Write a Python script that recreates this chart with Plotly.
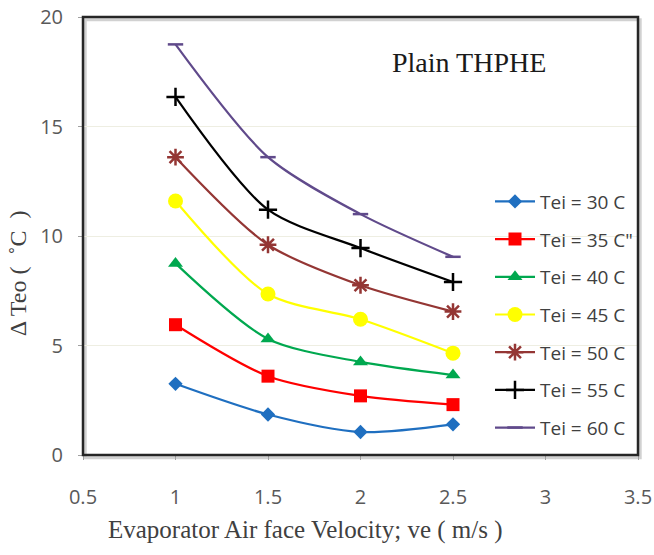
import plotly.graph_objects as go

# Air face velocity (m/s)
velocity = [1.0, 1.5, 2.0, 2.5]

# Evaporator outlet temperature drop (°C) for each inlet temperature
tei_30 = [3.25, 1.85, 1.05, 1.4]
tei_35 = [5.95, 3.6, 2.7, 2.3]
tei_40 = [8.75, 5.3, 4.25, 3.65]
tei_45 = [11.6, 7.35, 6.2, 4.65]
tei_50 = [13.6, 9.6, 7.75, 6.55]
tei_55 = [16.35, 11.2, 9.45, 7.9]
tei_60 = [18.75, 13.6, 11.0, 9.05]

series_names = ["Tei = 30 C", "Tei = 35 C\"", "Tei = 40 C", "Tei = 45 C",
                "Tei = 50 C", "Tei = 55 C", "Tei = 60 C"]
series_values = [tei_30, tei_35, tei_40, tei_45, tei_50, tei_55, tei_60]

x_ticks = [0.5, 1.0, 1.5, 2.0, 2.5, 3.0, 3.5]
x_tick_text = ["0.5", "1", "1.5", "2", "2.5", "3", "3.5"]
y_ticks = [0, 5, 10, 15, 20]

colors = ["#1F6FC0", "#FF0000", "#00A84F", "#FFFF00", "#943634", "#000000", "#604A8B"]
symbols = ["diamond", "square", "triangle-up", "circle",
           "asterisk-open", "cross-thin-open", "line-ew-open"]
sizes = [11, 13, 13, 15, 14, 13, 11]

fig = go.Figure()
for i, (name, vals) in enumerate(zip(series_names, series_values)):
    fig.add_trace(go.Scatter(
        x=velocity, y=vals, name=name, mode="lines+markers",
        legendgroup=f"g{i}",
        line=dict(color=colors[i], width=2.2, shape="spline", smoothing=0.8),
        marker=dict(symbol=symbols[i], size=sizes[i], color=colors[i],
                    line=dict(color=colors[i], width=2.5 if i >= 4 else 0)),
    ))

axis_font = dict(family="Open Sans, Arial, sans-serif", size=20, color="#595959")
serif = "Liberation Serif, Times New Roman, serif"

fig.update_layout(
    width=654, height=555,
    margin=dict(l=83, r=16, t=17, b=100, autoexpand=False),
    paper_bgcolor="white", plot_bgcolor="white",
    showlegend=True,
    legend=dict(
        x=1.0, xanchor="right", y=0.622, yanchor="top",
        bgcolor="rgba(0,0,0,0)", borderwidth=0,
        font=dict(family="Open Sans, Arial, sans-serif", size=19, color="#404040"),
        traceorder="grouped", tracegroupgap=10, itemwidth=40,
    ),
    xaxis=dict(
        range=[0.5, 3.5], tickvals=x_ticks, ticktext=x_tick_text,
        showgrid=False, zeroline=False, showline=False, automargin=False,
        ticks="outside", ticklen=4, tickcolor="#A0A0A0", tickwidth=1,
        ticklabelstandoff=20, tickfont=axis_font,
    ),
    yaxis=dict(
        range=[0, 20], tickvals=y_ticks,
        showgrid=True, gridcolor="#EEEEE2", gridwidth=1, zeroline=False,
        showline=False, automargin=False,
        ticks="outside", ticklen=4, tickcolor="#A0A0A0", tickwidth=1,
        ticklabelstandoff=11, tickfont=axis_font,
    ),
    shapes=[
        # soft shadow under the frame
        dict(type="rect", xref="paper", yref="paper", x0=0.004, y0=-0.006, x1=1.004, y1=0.994,
             line=dict(color="rgba(0,0,0,0.18)", width=3), layer="below"),
        # dark plot frame
        dict(type="rect", xref="paper", yref="paper", x0=0, y0=0, x1=1, y1=1,
             line=dict(color="#262626", width=2.5), layer="above"),
    ],
    annotations=[
        dict(text="Plain THPHE", xref="paper", yref="paper", x=0.695, y=0.895,
             xanchor="center", yanchor="middle", showarrow=False,
             font=dict(family=serif, size=28, color="#1A1A1A")),
        dict(text="Evaporator Air face Velocity; ve ( m/s )", xref="paper", yref="paper",
             x=0.40, y=-0.172, xanchor="center", yanchor="middle", showarrow=False,
             font=dict(family=serif, size=25, color="#404040")),
        dict(text="Δ Teo (  ˚C  )", xref="paper", yref="paper",
             x=-0.117, y=0.415, xanchor="center", yanchor="middle", showarrow=False,
             textangle=-90,
             font=dict(family=serif, size=24, color="#404040")),
    ],
)

fig.write_html("out.html")
